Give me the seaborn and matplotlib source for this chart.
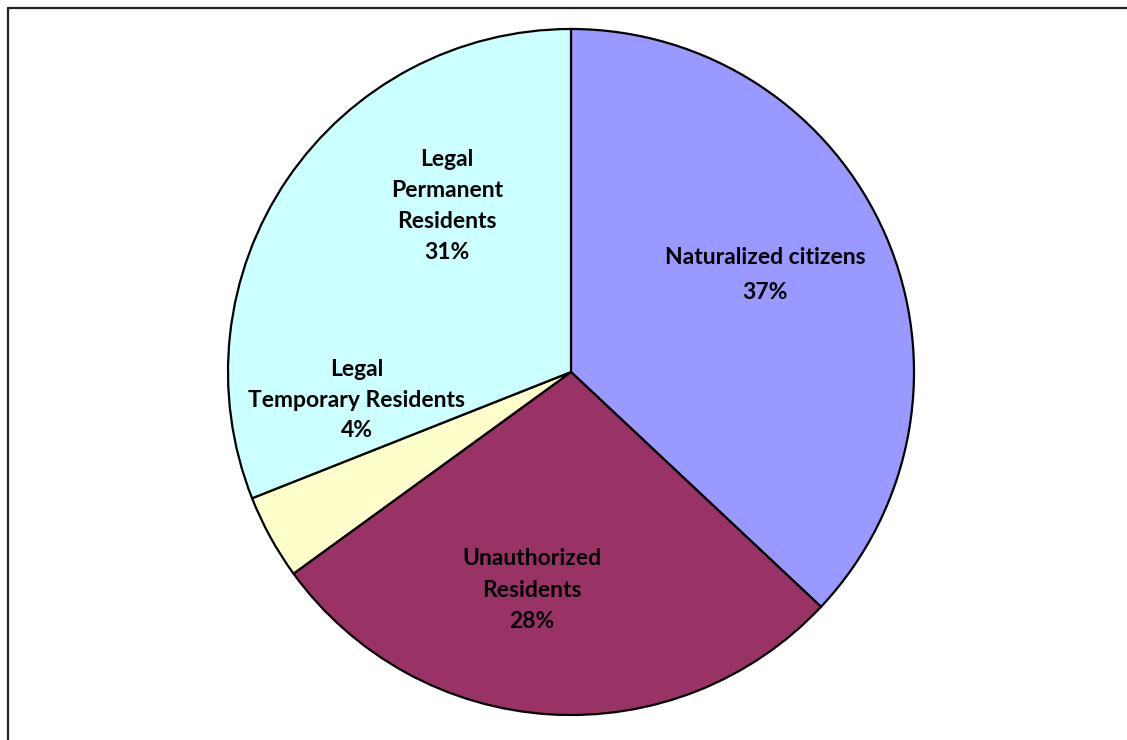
import matplotlib
matplotlib.use("Agg")
import matplotlib.pyplot as plt
from matplotlib.lines import Line2D
import seaborn as sns

# Foreign-born population by legal status
categories = ["Naturalized citizens", "Unauthorized\nResidents",
              "Legal\nTemporary Residents", "Legal\nPermanent\nResidents"]
shares = [37, 28, 4, 31]
colors = ["#9999FF", "#993366", "#FFFFCC", "#CCFFFF"]

# label anchor points in pie units (centre 0,0, radius 1)
label_x = [0.566, -0.114, -0.624, -0.362]
label_y = [0.282, -0.636, -0.082, 0.484]
label_spacing = [1.85, 1.62, 1.58, 1.58]

sns.set_style("white")
plt.rcParams["font.family"] = ["Lato", "DejaVu Sans"]

fig = plt.figure(figsize=(11.27, 7.4), dpi=100)
ax = fig.add_axes([228 / 1127, 25 / 740, 686 / 1127, 686 / 740])

ax.pie(shares, colors=colors, startangle=90, counterclock=False,
       radius=1.0,
       wedgeprops=dict(edgecolor="black", linewidth=1.6))

for name, val, x, y, ls in zip(categories, shares, label_x, label_y, label_spacing):
    ax.text(x, y, f"{name}\n{val}%", ha="center", va="center",
            fontsize=16.5, fontweight="bold", color="black",
            linespacing=ls, multialignment="center")

ax.set_xlim(-1.0, 1.0)
ax.set_ylim(-1.0, 1.0)
ax.set_aspect("equal")
ax.axis("off")

# chart-area border (left and top edges fall inside the image)
fig.add_artist(Line2D([7.5 / 1127, 7.5 / 1127], [-0.05, 1 - 7.5 / 740],
                      transform=fig.transFigure, color="#222222", lw=1.6))
fig.add_artist(Line2D([7.5 / 1127, 1.05], [1 - 7.5 / 740, 1 - 7.5 / 740],
                      transform=fig.transFigure, color="#222222", lw=1.6))

fig.savefig("out.png", dpi=100, facecolor="white")
